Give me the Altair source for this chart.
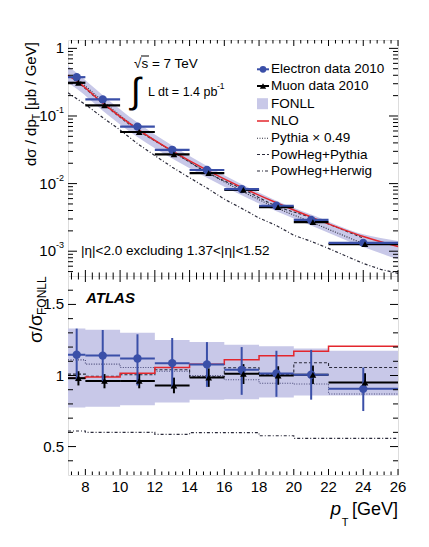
import altair as alt
import pandas as pd

FONT = "Liberation Sans"
W, H1, H2 = 330, 236, 199
BLUE = "#3a4fa8"
BAND = "#c8c8e8"
RED = "#e3262d"
DARK = "#2a2a3a"

# ---------------- data ----------------
bin_lo = [7, 8, 10, 12, 14, 16, 18, 20, 22]
bin_hi = [8, 10, 12, 14, 16, 18, 20, 22, 26]
ele_pt = [7.5, 9, 11, 13, 15, 17, 19, 21, 24]
mu_pt = [7.6, 9.1, 11.1, 13.1, 15.1, 17.1, 19.1, 21.1, 24.1]

# upper panel: d sigma / dpT  [mub/GeV]
ele_xsec = [0.375, 0.176, 0.0696, 0.0316, 0.0159, 0.0083, 0.0047, 0.0029, 0.00133]
mu_xsec = [0.31, 0.144, 0.058, 0.027, 0.0143, 0.0081, 0.0045, 0.0027, 0.00127]

theory_pt = [7, 7.5, 9, 11, 13, 15, 17, 19, 21, 24, 26]
fonll_hi = [0.55, 0.435, 0.203, 0.080, 0.0365, 0.0182, 0.0098, 0.0056, 0.0035, 0.00178, 0.00142]
fonll_lo = [0.31, 0.252, 0.120, 0.049, 0.0235, 0.0122, 0.0067, 0.0039, 0.0024, 0.00115, 0.00076]
nlo_xsec = [0.40, 0.33, 0.155, 0.064, 0.0305, 0.0158, 0.0088, 0.0052, 0.0032, 0.00165, 0.00117]
pythia_xsec = [0.363, 0.166, 0.065, 0.0299, 0.0148, 0.00776, 0.00439, 0.0027, 0.00129]
powpy_xsec = [0.33, 0.153, 0.062, 0.0302, 0.0146, 0.0084, 0.00466, 0.00315, 0.00156]
herwig_pt = [7, 8, 9, 10, 11, 12, 13, 14, 15, 16, 17, 18, 19, 20, 21, 22, 23, 24, 25, 26]
herwig_xsec = [0.22, 0.148, 0.095, 0.062, 0.039, 0.026, 0.0175, 0.0122, 0.0086, 0.0059,
               0.0043, 0.0031, 0.0024, 0.00172, 0.0014, 0.0011, 0.00085, 0.00066, 0.00054, 0.00047]

# lower panel: sigma / sigma_FONLL
ele_ratio = [1.146, 1.14, 1.12, 1.087, 1.078, 1.04, 1.014, 1.005, 0.906]
ele_ratio_hi = [1.33, 1.32, 1.29, 1.264, 1.235, 1.20, 1.174, 1.18, 1.056]
ele_ratio_lo = [0.96, 0.96, 0.93, 0.91, 0.92, 0.864, 0.85, 0.83, 0.75]
mu_ratio = [0.981, 0.962, 0.962, 0.929, 0.986, 1.012, 1.0, 1.005, 0.95]
mu_ratio_hi = [1.03, 1.01, 1.01, 0.985, 1.05, 1.08, 1.065, 1.07, 1.015]
mu_ratio_lo = [0.93, 0.91, 0.91, 0.875, 0.92, 0.94, 0.935, 0.94, 0.885]
fonll_r_hi = [1.33, 1.322, 1.30, 1.25, 1.235, 1.216, 1.205, 1.19, 1.174]
fonll_r_lo = [0.774, 0.78, 0.79, 0.81, 0.83, 0.833, 0.845, 0.86, 0.86]
nlo_r = [0.981, 0.99, 1.016, 1.056, 1.08, 1.11, 1.139, 1.17, 1.205]
pythia_r = [1.11, 1.08, 1.056, 1.03, 1.0, 0.97, 0.946, 0.94, 0.87]
powpy_r = [1.01, 0.995, 1.005, 1.04, 0.99, 1.055, 1.005, 1.09, 1.056]
herwig_r = [0.61, 0.60, 0.60, 0.586, 0.598, 0.598, 0.576, 0.558, 0.558]

legend_labels = ["Electron data 2010", "Muon data 2010", "FONLL", "NLO",
                 "Pythia \u00d7 0.49", "PowHeg+Pythia", "PowHeg+Herwig"]

x_major = [8, 10, 12, 14, 16, 18, 20, 22, 24, 26]
x_labels = ["8", "10", "12", "14", "16", "18", "20", "22", "24", "26"]
y1_major = [0.001, 0.01, 0.1, 1.0]
y1_exp = ["-3", "-2", "-1"]
y2_major = [0.5, 1.0, 1.5]
y2_labels = ["0.5", "1", "1.5"]

# ---------------- scales / helpers ----------------
xs = alt.Scale(domain=[7, 26], nice=False, zero=False)
ys1 = alt.Scale(type="log", domain=[4.3e-4, 1.33], nice=False)
ys2 = alt.Scale(domain=[0.3, 1.7], nice=False, zero=False)
one = pd.DataFrame({"a": [0]})


def X(f):
    return alt.X(f, type="quantitative", scale=xs, axis=None)


def Y(f, s):
    return alt.Y(f, type="quantitative", scale=s, axis=None)


def Y2(f):
    return alt.Y2(f)


def ptext(txt, x, y, size=13.5, align="left", baseline="middle", **kw):
    return alt.Chart(one).mark_text(text=txt, font=FONT, fontSize=size, align=align,
                                    baseline=baseline, color=kw.pop("color", "black"), **kw
                                    ).encode(x=alt.value(x), y=alt.value(y))


def prule(x, x2, y, y2, color="black", width=1.5, dash=None):
    kw = dict(color=color, strokeWidth=width)
    if dash:
        kw["strokeDash"] = dash
    return alt.Chart(one).mark_rule(**kw).encode(
        x=alt.value(x), x2=alt.value(x2), y=alt.value(y), y2=alt.value(y2))


def ticks(h, ys, ymaj, ymin, lmaj_y, lmin_y, lmaj_x=6, lmin_x=3.5):
    xmin = [round(7.2 + 0.4 * i, 1) for i in range(48)]
    xmin = [v for v in xmin if v <= 26 and abs(v - round(v)) > 0.01 or (v <= 26 and int(round(v)) % 2 == 1)]
    dxM = pd.DataFrame({"v": x_major})
    dxm = pd.DataFrame({"v": xmin})
    dyM = pd.DataFrame({"v": ymaj})
    dym = pd.DataFrame({"v": ymin})
    lay = []
    for d, L in ((dxM, lmaj_x), (dxm, lmin_x)):
        lay.append(alt.Chart(d).mark_rule(color="black", strokeWidth=1).encode(
            x=X("v"), y=alt.value(0), y2=alt.value(L)))
        lay.append(alt.Chart(d).mark_rule(color="black", strokeWidth=1).encode(
            x=X("v"), y=alt.value(h - L), y2=alt.value(h)))
    for d, L in ((dyM, lmaj_y), (dym, lmin_y)):
        lay.append(alt.Chart(d).mark_rule(color="black", strokeWidth=1).encode(
            y=Y("v", ys), x=alt.value(0), x2=alt.value(L)))
        lay.append(alt.Chart(d).mark_rule(color="black", strokeWidth=1).encode(
            y=Y("v", ys), x=alt.value(W - L), x2=alt.value(W)))
    return lay


def step_df(vals):
    return pd.DataFrame({"x": bin_lo + [bin_hi[-1]], "y": vals + [vals[-1]]})


# ---------------- upper panel ----------------
d_band = pd.DataFrame({"x": theory_pt, "hi": fonll_hi, "lo": fonll_lo, "nlo": nlo_xsec})
d_hw = pd.DataFrame({"x": herwig_pt, "y": herwig_xsec})
d_th = pd.DataFrame({"x": ele_pt, "py": pythia_xsec, "pp": powpy_xsec})
d_ele = pd.DataFrame({"x": ele_pt, "lo": bin_lo, "hi": bin_hi, "y": ele_xsec})
d_mu = pd.DataFrame({"x": mu_pt, "lo": bin_lo, "hi": bin_hi, "y": mu_xsec})

up = [
    alt.Chart(d_band).mark_area(color=BAND, opacity=1, interpolate="monotone").encode(
        x=X("x"), y=Y("hi", ys1), y2=Y2("lo")),
    alt.Chart(d_hw).mark_line(color=DARK, strokeWidth=1.2, strokeDash=[3, 2, 1, 2], clip=True).encode(
        x=X("x"), y=Y("y", ys1)),
    alt.Chart(d_th).mark_line(color=DARK, strokeWidth=1.1, strokeDash=[1, 1.5], interpolate="monotone").encode(
        x=X("x"), y=Y("py", ys1)),
    alt.Chart(d_th).mark_line(color=DARK, strokeWidth=1.1, strokeDash=[3, 2], interpolate="monotone").encode(
        x=X("x"), y=Y("pp", ys1)),
    alt.Chart(d_band).mark_line(color=RED, strokeWidth=1.5, interpolate="monotone").encode(
        x=X("x"), y=Y("nlo", ys1)),
    alt.Chart(d_mu).mark_rule(color="black", strokeWidth=2.2).encode(
        x=X("lo"), x2=alt.X2("hi"), y=Y("y", ys1)),
    alt.Chart(d_ele).mark_rule(color=BLUE, strokeWidth=2.2).encode(
        x=X("lo"), x2=alt.X2("hi"), y=Y("y", ys1)),
    alt.Chart(d_ele).mark_point(shape="circle", filled=True, size=70, color=BLUE, opacity=1).encode(
        x=X("x"), y=Y("y", ys1)),
    alt.Chart(d_mu).mark_point(shape="triangle-up", filled=True, size=45, color="black", opacity=1).encode(
        x=X("x"), y=Y("y", ys1)),
]
y1_minor = [k * 10.0 ** e for e in (-4, -3, -2, -1) for k in range(2, 10) if 4.3e-4 <= k * 10.0 ** e <= 1.33]
up += ticks(H1, ys1, y1_major, y1_minor, 9, 5)

# y labels
d_y1 = pd.DataFrame({"v": y1_major[:3], "e": y1_exp})
up += [
    alt.Chart(d_y1).mark_text(text="10", font=FONT, fontSize=15, align="right", baseline="middle").encode(
        x=alt.value(-12), y=Y("v", ys1)),
    alt.Chart(d_y1).mark_text(font=FONT, fontSize=9, align="left", baseline="middle", dy=-6).encode(
        x=alt.value(-12), y=Y("v", ys1), text="e:N"),
    alt.Chart(pd.DataFrame({"v": [1.0]})).mark_text(text="1", font=FONT, fontSize=15, align="right",
                                                   baseline="middle").encode(x=alt.value(-4), y=Y("v", ys1)),
]

# y title
up += [
    ptext("d\u03c3 / dp", -37, 126, size=15, align="left", angle=270),
    ptext("T", -31, 80, size=10, align="left", angle=270),
    ptext("[\u03bcb / GeV]", -37, 70, size=15, align="left", angle=270),
]

# annotations
up += [
    ptext("\u221as = 7 TeV", 66, 24, size=13.5),
    prule(73, 81, 16, 16, width=1),
    ptext("\u222b", 63, 52, size=36),
    ptext("L dt = 1.4 pb", 80, 52, size=12.5),
    ptext("-1", 149, 46, size=8.5),
    ptext("|\u03b7|<2.0 excluding 1.37<|\u03b7|<1.52", 13, 211, size=13.5),
]

# legend
ly = [29.3, 46, 63.7, 81, 98.3, 114.5, 131]
up += [
    prule(189, 201, ly[0], ly[0], color=BLUE, width=2),
    alt.Chart(one).mark_point(shape="circle", filled=True, size=45, color=BLUE, opacity=1).encode(
        x=alt.value(195), y=alt.value(ly[0])),
    prule(189, 201, ly[1], ly[1], color="black", width=2),
    alt.Chart(one).mark_point(shape="triangle-up", filled=True, size=40, color="black", opacity=1).encode(
        x=alt.value(195), y=alt.value(ly[1])),
    alt.Chart(one).mark_rect(color=BAND).encode(
        x=alt.value(189), x2=alt.value(200), y=alt.value(ly[2] - 5.5), y2=alt.value(ly[2] + 5.5)),
    prule(189, 201, ly[3], ly[3], color=RED, width=1.5),
    prule(189, 201, ly[4], ly[4], color=DARK, width=1.1, dash=[1, 1.5]),
    prule(189, 201, ly[5], ly[5], color=DARK, width=1.1, dash=[3, 2]),
    prule(189, 201, ly[6], ly[6], color=DARK, width=1.1, dash=[3, 2, 1, 2]),
]
for lab, yy in zip(legend_labels, ly):
    up.append(ptext(lab, 203, yy, size=13.5))

# layout anchor (invisible, white)
up.append(prule(-59, -58, -31, -30, color="white", width=0.5))

upper = alt.layer(*up).properties(width=W, height=H1)

# ---------------- lower panel ----------------
d_rb = pd.DataFrame({"x": bin_lo + [bin_hi[-1]], "hi": fonll_r_hi + [fonll_r_hi[-1]],
                     "lo": fonll_r_lo + [fonll_r_lo[-1]]})
d_er = pd.DataFrame({"x": ele_pt, "lo": bin_lo, "hi": bin_hi, "y": ele_ratio,
                     "ylo": ele_ratio_lo, "yhi": ele_ratio_hi})
d_mr = pd.DataFrame({"x": mu_pt, "lo": bin_lo, "hi": bin_hi, "y": mu_ratio,
                     "ylo": mu_ratio_lo, "yhi": mu_ratio_hi})

lo_l = [
    alt.Chart(d_rb).mark_area(color=BAND, opacity=1, interpolate="step-after").encode(
        x=X("x"), y=Y("hi", ys2), y2=Y2("lo")),
    alt.Chart(step_df(herwig_r)).mark_line(color=DARK, strokeWidth=1.1, strokeDash=[3, 2, 1, 2],
                                          interpolate="step-after").encode(x=X("x"), y=Y("y", ys2)),
    alt.Chart(step_df(pythia_r)).mark_line(color="#4a4a7a", strokeWidth=1.1, strokeDash=[1, 1.5],
                                          interpolate="step-after").encode(x=X("x"), y=Y("y", ys2)),
    alt.Chart(step_df(powpy_r)).mark_line(color=DARK, strokeWidth=1.1, strokeDash=[3, 2],
                                         interpolate="step-after").encode(x=X("x"), y=Y("y", ys2)),
    alt.Chart(step_df(nlo_r)).mark_line(color=RED, strokeWidth=1.5,
                                       interpolate="step-after").encode(x=X("x"), y=Y("y", ys2)),
    alt.Chart(d_mr).mark_rule(color="black", strokeWidth=2).encode(
        x=X("lo"), x2=alt.X2("hi"), y=Y("y", ys2)),
    alt.Chart(d_mr).mark_rule(color="black", strokeWidth=2).encode(
        x=X("x"), y=Y("ylo", ys2), y2=Y2("yhi")),
    alt.Chart(d_er).mark_rule(color=BLUE, strokeWidth=2).encode(
        x=X("lo"), x2=alt.X2("hi"), y=Y("y", ys2)),
    alt.Chart(d_er).mark_rule(color=BLUE, strokeWidth=2).encode(
        x=X("x"), y=Y("ylo", ys2), y2=Y2("yhi")),
    alt.Chart(d_er).mark_point(shape="circle", filled=True, size=70, color=BLUE, opacity=1).encode(
        x=X("x"), y=Y("y", ys2)),
    alt.Chart(d_mr).mark_point(shape="triangle-up", filled=True, size=45, color="black", opacity=1).encode(
        x=X("x"), y=Y("y", ys2)),
]
y2_minor = [0.4, 0.6, 0.7, 0.8, 0.9, 1.1, 1.2, 1.3, 1.4, 1.6]
lo_l += ticks(H2, ys2, y2_major, y2_minor, 8, 5)

d_y2 = pd.DataFrame({"v": y2_major, "t": y2_labels})
d_x = pd.DataFrame({"v": x_major, "t": x_labels})
lo_l += [
    alt.Chart(d_y2).mark_text(font=FONT, fontSize=15, align="right", baseline="middle").encode(
        x=alt.value(-4), y=Y("v", ys2), text="t:N"),
    alt.Chart(d_x).mark_text(font=FONT, fontSize=15, align="center", baseline="top").encode(
        x=X("v"), y=alt.value(H2 + 5), text="t:N"),
    ptext("ATLAS", 18, 22, size=15, fontWeight="bold", fontStyle="italic"),
    ptext("\u03c3/\u03c3", -32, 67, size=19, align="left", angle=270),
    ptext("FONLL", -26, 39, size=12, align="left", angle=270),
    ptext("[GeV]", 330, 239, size=18, align="right", baseline="alphabetic"),
    ptext("p", 273, 239, size=19, align="right", baseline="alphabetic", fontStyle="italic"),
    ptext("T", 277, 250, size=11, align="center", baseline="alphabetic"),
    prule(-59, -58, 10, 11, color="white", width=0.5),
]

lower = alt.layer(*lo_l).properties(width=W, height=H2)

chart = alt.vconcat(upper, lower, spacing=0, bounds="flush").properties(
    padding={"left": 0, "top": 0, "right": 5, "bottom": 5}
).configure_view(stroke="black", strokeWidth=1.5).configure(font=FONT)

chart.save("out.html", embed_options={"renderer": "svg", "actions": False})
